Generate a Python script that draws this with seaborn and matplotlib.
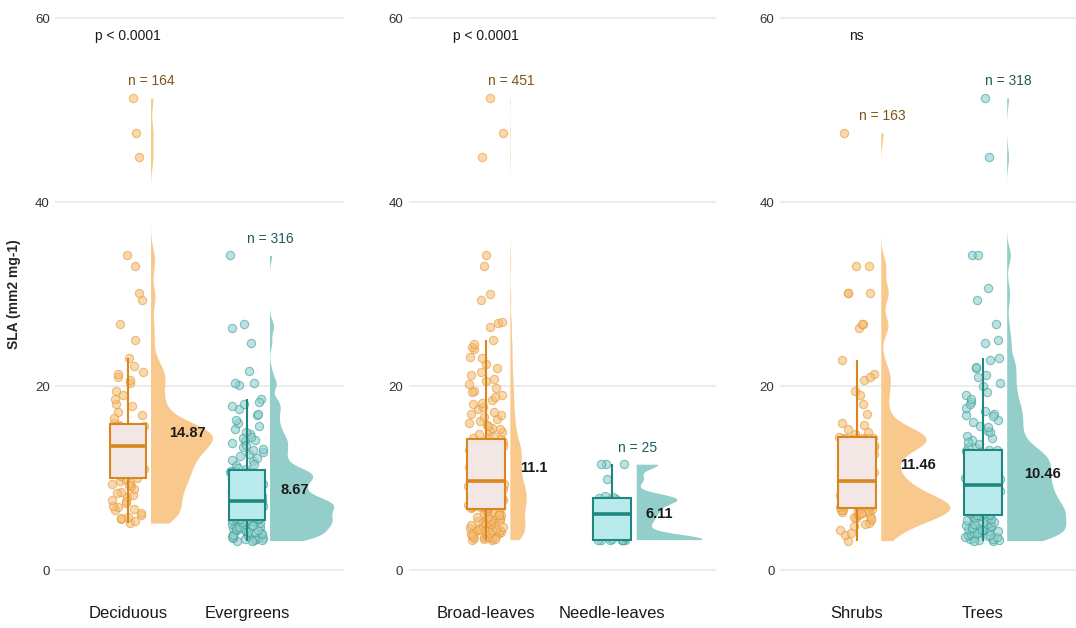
import numpy as np
import pandas as pd
import seaborn as sns
from matplotlib import pyplot as plt
from matplotlib.transforms import Affine2D

# panel layout / labels
panels = [
    ["Deciduous", "Evergreens"],
    ["Broad-leaves", "Needle-leaves"],
    ["Shrubs", "Trees"],
]
p_labels = ["p < 0.0001", "p < 0.0001", "ns"]
n_counts = [[164, 316], [451, 25], [163, 318]]
means = [[14.87, 8.67], [11.1, 6.11], [11.46, 10.46]]

# SLA values (mm2 mg-1)
deciduous = [
    5.1, 5.3, 5.5, 5.8, 6.0, 6.2, 6.5, 6.8, 7.0, 7.3, 7.6, 7.9, 8.2, 8.5, 8.8, 9.1, 9.3, 9.5, 9.7, 9.9,
    5.6, 6.6, 7.5, 8.4, 9.2,
    10.0, 10.2, 10.4, 10.6, 10.8, 11.0, 11.2, 11.4, 11.6, 11.8, 12.0, 12.2, 12.4, 12.6, 12.8, 12.9, 13.0, 13.2, 13.3, 13.4,
    10.5, 11.3, 12.1, 12.7, 13.1,
    13.6, 13.8, 14.0, 14.1, 14.2, 14.3, 14.4, 14.5, 14.6, 14.7, 14.8, 14.9, 15.0, 15.1, 15.2, 15.3, 15.4, 15.6, 15.7, 15.8,
    14.0, 14.5, 14.8, 15.2, 15.5,
    16.0, 16.5, 17.2, 18.0, 18.6, 19.5, 20.3, 21.0, 21.5, 22.2, 23.0, 25.0, 26.7, 29.3, 30.1, 33.0, 34.2, 44.9, 47.5, 51.3,
    16.8, 17.8, 19.0, 20.6, 21.3,
]
evergreens = [
    3.2, 3.3, 3.4, 3.5, 3.6, 3.7, 3.8, 3.9, 4.0, 4.1, 4.2, 4.3, 4.4, 4.5, 4.6, 4.7, 4.8, 4.9, 5.0, 5.0, 5.1, 5.2, 5.3, 5.3, 5.4,
    3.2, 3.3, 3.4, 3.5, 3.6, 3.8, 3.9, 4.1, 4.3, 4.5, 4.7, 4.9, 5.1, 5.2, 5.4,
    5.5, 5.5, 5.6, 5.7, 5.8, 5.9, 6.0, 6.1, 6.2, 6.3, 6.4, 6.5, 6.6, 6.7, 6.8, 6.9, 7.0, 7.0, 7.1, 7.2, 7.3, 7.3, 7.4, 7.5, 7.5,
    5.5, 5.7, 5.9, 6.0, 6.2, 6.4, 6.5, 6.7, 6.8, 7.0, 7.1, 7.2, 7.3, 7.4, 7.5,
    7.6, 7.7, 7.8, 8.0, 8.1, 8.3, 8.4, 8.6, 8.7, 8.9, 9.0, 9.2, 9.3, 9.5, 9.6, 9.8, 9.9, 10.0, 10.2, 10.3, 10.4, 10.5, 10.6, 10.7, 10.8,
    7.7, 7.9, 8.2, 8.5, 8.8, 9.1, 9.4, 9.7, 9.9, 10.1, 10.3, 10.5, 10.6, 10.7, 10.8,
    11.0, 11.4, 11.8, 12.2, 12.6, 13.0, 13.4, 13.8, 14.0, 14.3, 14.8, 15.3, 16.0, 16.8, 17.5, 18.0, 18.6, 20.1, 20.3, 20.3, 21.6, 24.7, 26.3, 26.7, 34.2,
    11.1, 11.5, 12.0, 12.4, 12.8, 13.2, 13.6, 14.1, 14.5, 15.0, 15.6, 16.3, 17.0, 17.8, 18.3,
]
broad_leaves = [
    3.3, 3.4, 3.5, 3.6, 3.7, 3.8, 3.9, 4.0, 4.1, 4.2, 4.3, 4.4, 4.5, 4.6, 4.7, 4.8, 4.9, 5.0, 5.1, 5.2, 5.3, 5.4, 5.5, 5.6, 5.7, 5.8, 6.0, 6.2, 6.4, 6.5,
    3.3, 3.4, 3.5, 3.6, 3.7, 3.9, 4.0, 4.2, 4.4, 4.5, 4.7, 4.9, 5.0, 5.2, 5.4, 5.6, 5.8, 6.0, 6.2, 6.4,
    6.6, 6.7, 6.8, 6.9, 7.0, 7.1, 7.2, 7.3, 7.4, 7.5, 7.6, 7.7, 7.8, 7.9, 8.0, 8.1, 8.2, 8.3, 8.4, 8.5, 8.6, 8.7, 8.8, 8.9, 9.0, 9.1, 9.2, 9.3, 9.4, 9.5,
    6.7, 6.8, 6.9, 7.0, 7.2, 7.3, 7.5, 7.6, 7.8, 7.9, 8.1, 8.2, 8.4, 8.5, 8.7, 8.8, 9.0, 9.1, 9.3, 9.4,
    9.7, 9.8, 10.0, 10.1, 10.3, 10.4, 10.6, 10.7, 10.9, 11.0, 11.2, 11.3, 11.5, 11.6, 11.8, 11.9, 12.1, 12.2, 12.4, 12.5, 12.7, 12.8, 13.0, 13.1, 13.3, 13.4, 13.5, 13.6, 13.8, 13.9,
    9.8, 10.0, 10.2, 10.5, 10.7, 10.9, 11.1, 11.4, 11.6, 11.8, 12.0, 12.3, 12.5, 12.7, 12.9, 13.1, 13.3, 13.5, 13.7, 13.9,
    14.2, 14.5, 14.8, 15.1, 15.4, 15.8, 16.2, 16.6, 17.0, 17.5, 18.0, 18.5, 19.0, 19.5, 20.2, 20.8, 21.5, 22.4, 23.2, 24.0, 25.0,
    26.4, 26.8, 27.0, 29.3, 30.0, 33.0, 34.2, 44.9, 47.5, 51.3,
    14.3, 14.6, 15.0, 15.3, 15.6, 16.0, 16.4, 16.8, 17.2, 17.7, 18.2, 18.8, 19.3, 19.8, 20.5, 21.2, 22.0, 23.0, 24.2, 24.6,
]
needle_leaves = [
    3.3, 3.3, 3.3, 3.3, 3.3, 3.3, 3.3, 3.4, 3.6, 4.2, 5.0, 5.5, 6.05,
    6.4, 6.8, 7.2, 7.6, 7.7, 7.8, 7.9, 8.0, 9.9, 11.5, 11.5, 11.5,
]
shrubs = [
    3.2, 3.8, 4.3, 4.8, 5.1, 5.4, 5.6, 5.8, 5.9, 6.0, 6.1, 6.2, 6.3, 6.4, 6.5, 6.5, 6.6, 6.6,
    4.0, 5.0, 5.7, 6.2, 6.5,
    6.8, 6.9, 7.0, 7.1, 7.2, 7.3, 7.4, 7.4, 7.5, 7.6, 7.7, 7.8, 8.0, 8.3, 8.7, 9.0, 9.3, 9.5,
    7.0, 7.5, 8.1, 8.8, 9.4,
    9.8, 10.3, 10.9, 11.5, 12.0, 12.6, 13.0, 13.4, 13.8, 14.0, 14.1, 14.2, 14.2, 14.3, 14.3, 14.3, 14.3, 14.4,
    10.6, 12.2, 13.6, 14.2, 14.3,
    14.5, 14.8, 15.3, 15.8, 18.0, 19.5, 20.7, 21.3, 22.8, 26.3, 26.7, 26.7, 30.1, 30.1, 30.1, 33.0, 33.0, 47.5,
    15.0, 16.0, 17.0, 19.0, 21.0,
]
trees = [
    3.2, 3.3, 3.4, 3.5, 3.6, 3.7, 3.8, 3.9, 4.0, 4.1, 4.2, 4.3, 4.4, 4.5, 4.6, 4.7, 4.8, 4.9, 5.0, 5.1, 5.2, 5.4, 5.6, 5.8, 5.9,
    3.2, 3.3, 3.4, 3.6, 3.8, 4.0, 4.2, 4.4, 4.6, 4.8, 5.0, 5.2, 5.5, 5.7, 5.9,
    6.0, 6.1, 6.2, 6.3, 6.4, 6.5, 6.6, 6.7, 6.8, 6.9, 7.0, 7.1, 7.3, 7.4, 7.6, 7.7, 7.9, 8.0, 8.2, 8.3, 8.5, 8.6, 8.8, 8.9, 9.1,
    6.0, 6.2, 6.4, 6.6, 6.8, 7.0, 7.2, 7.5, 7.7, 7.9, 8.2, 8.4, 8.6, 8.8, 9.0,
    9.3, 9.4, 9.6, 9.7, 9.9, 10.0, 10.2, 10.3, 10.5, 10.6, 10.8, 10.9, 11.1, 11.2, 11.4, 11.5, 11.7, 11.8, 12.0, 12.1, 12.3, 12.5, 12.7, 12.9, 13.0,
    9.3, 9.6, 9.9, 10.2, 10.5, 10.8, 11.1, 11.4, 11.7, 12.0, 12.2, 12.4, 12.6, 12.8, 13.0,
    13.3, 13.7, 14.1, 14.6, 15.1, 15.7, 16.3, 16.8, 17.0, 17.6, 18.3, 19.0, 20.0, 21.0, 22.0, 23.0, 24.7, 25.0, 26.7, 29.3, 30.6, 34.2, 34.2, 44.9, 51.3,
    13.4, 13.9, 14.4, 15.0, 15.5, 16.1, 16.7, 17.3, 18.0, 18.6, 19.4, 20.3, 21.2, 22.1, 22.8,
]
panel_values = [[deciduous, evergreens], [broad_leaves, needle_leaves], [shrubs, trees]]

# styling
pt_colors = ["#F7BE76", "#8FD0CC"]
pt_edges = ["#E39A3E", "#3E9E99"]
box_fills = ["#F3E7E5", "#B9EBEC"]
box_edges = ["#D9861F", "#1E8782"]
violin_colors = ["#F9C88C", "#93CECA"]
n_text_colors = ["#7D5418", "#1F5C5A"]
violin_widths = [[0.52, 0.54], [0.13, 0.52], [0.55, 0.47]]
mean_x_offsets = [[0.35, 0.28], [0.27, 0.26], [0.34, 0.33]]

sns.set_theme(style="whitegrid")
plt.rcParams["font.family"] = ["Liberation Sans", "DejaVu Sans"]
np.random.seed(3)  # jitter only

fig = plt.figure(figsize=(10.76, 6.28), dpi=100)
W, H = 1076, 628
bottom, height = (H - 583.8) / H, 0.9229
axes_px = [(55.4, 289), (408.8, 307), (780, 306)]

for k, (cats, vals_pair) in enumerate(zip(panels, panel_values)):
    left, width = axes_px[k]
    ax = fig.add_axes([left / W, bottom, width / W, height])

    for i, (cat, vals) in enumerate(zip(cats, vals_pair)):
        sns.stripplot(
            x=[cat] * len(vals), y=vals, order=cats, ax=ax,
            color=pt_colors[i], edgecolor=pt_edges[i], linewidth=0.8,
            size=6, alpha=0.6, jitter=0.14, zorder=2,
        )
    for i, (cat, vals) in enumerate(zip(cats, vals_pair)):
        sns.boxplot(
            x=[cat] * len(vals), y=vals, order=cats, ax=ax,
            width=0.3, color=box_fills[i], linecolor=box_edges[i],
            linewidth=1.5, showfliers=False, showcaps=False, saturation=1,
            boxprops=dict(zorder=3),
            whiskerprops=dict(zorder=3),
            medianprops=dict(linewidth=2.6, zorder=4),
        )
    for i, (cat, vals) in enumerate(zip(cats, vals_pair)):
        sns.kdeplot(
            y=vals, ax=ax, fill=True, bw_adjust=0.35, cut=0,
            color=violin_colors[i], alpha=1, linewidth=0,
        )
        coll = ax.collections[-1]
        dmax = coll.get_paths()[0].vertices[:, 0].max()
        coll.set_transform(
            Affine2D().scale(violin_widths[k][i] / dmax, 1).translate(i + 0.19, 0)
            + ax.transData
        )
        ax.text(i + 0.2, max(vals) + 1.8, f"n = {n_counts[k][i]}",
                ha="center", va="center", fontsize=10, color=n_text_colors[i])
        ax.text(i + mean_x_offsets[k][i], means[k][i], f"{means[k][i]}",
                ha="left", va="center", fontsize=10.5, fontweight="bold",
                color="#1A1A1A", zorder=5)

    ax.text(0, 58, p_labels[k], ha="center", va="center", fontsize=10, color="#1A1A1A")

    ax.set_xlim(-0.61, 1.82)
    ax.set_ylim(-1.5, 61.5)
    ax.set_xticks([0, 1])
    ax.set_xticklabels(cats, fontsize=12, color="#1A1A1A")
    ax.set_yticks([0, 20, 40, 60])
    ax.tick_params(axis="y", labelsize=9.5, labelcolor="#333333", length=0, pad=4)
    ax.tick_params(axis="x", length=0, pad=16)
    ax.xaxis.grid(False)
    ax.yaxis.grid(True, color="#EBEBEB", linewidth=1.3)
    for s in ax.spines.values():
        s.set_visible(False)
    ax.set_xlabel("")
    if k == 0:
        ax.set_ylabel("SLA (mm2 mg-1)", fontsize=10, fontweight="bold", labelpad=10)
    else:
        ax.set_ylabel("")

fig.savefig("out.png", dpi=100)
